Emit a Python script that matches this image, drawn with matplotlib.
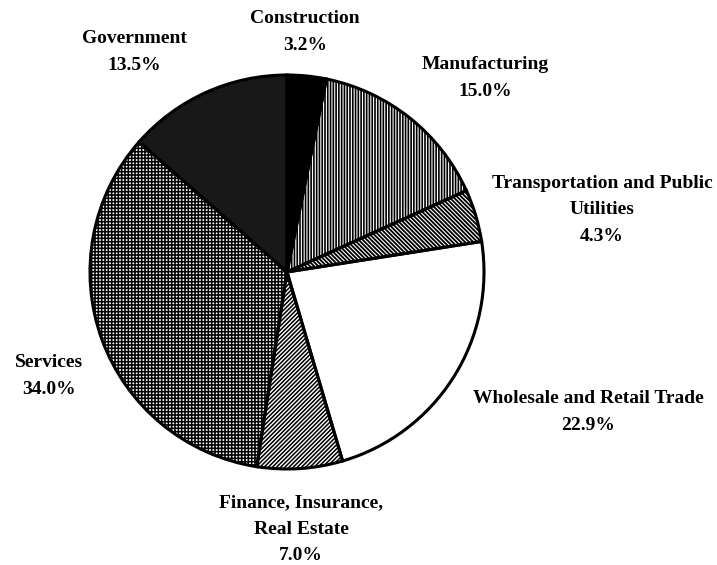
"""Pie chart of employment shares by sector, black and white print style."""

import matplotlib
matplotlib.use("Agg")
import matplotlib.pyplot as plt

plt.rcParams["font.family"] = ["Liberation Serif", "DejaVu Serif"]
plt.rcParams["hatch.linewidth"] = 1.0

# Data, clockwise from 12 o'clock
sectors = [
    "Construction",
    "Manufacturing",
    "Transportation and Public\nUtilities",
    "Wholesale and Retail Trade",
    "Finance, Insurance,\nReal Estate",
    "Services",
    "Government",
]
shares = [3.2, 15.0, 4.3, 22.9, 7.0, 34.0, 13.5]

# Fill style per slice: (face colour, hatch colour, hatch, hatch width)
styles = [
    ("black", "black", None, 1.0),
    ("black", "white", "|" * 6, 0.8),
    ("black", "white", "\\" * 8, 0.8),
    ("white", "white", None, 1.0),
    ("black", "white", "/" * 8, 1.0),
    ("white", "black", "+" * 5, 1.1),
    ("#181818", "#181818", None, 1.0),
]

# Label anchor points in pixel units (x from left, y from top)
label_xy = [
    (305, 32),
    (485, 78),
    (602, 210),
    (588, 412),
    (301, 529),
    (49, 376),
    (134, 52),
]

W, H = 717, 565
fig = plt.figure(figsize=(W / 100, H / 100), dpi=100)
ax = fig.add_axes([0, 0, 1, 1])

center = (287, H - 272)
radius = 197

# Filled and hatched wedges
wedges, _ = ax.pie(
    shares,
    startangle=90,
    counterclock=False,
    center=center,
    radius=radius,
    frame=True,
    wedgeprops=dict(linewidth=0),
)
for w, (face, hcol, hatch, hlw) in zip(wedges, styles):
    w.set_facecolor(face)
    w.set_edgecolor(hcol)
    if hatch:
        w.set_hatch(hatch)
        if hasattr(w, "set_hatch_linewidth"):
            w.set_hatch_linewidth(hlw)

# Outlines on top
ax.pie(
    shares,
    startangle=90,
    counterclock=False,
    center=center,
    radius=radius,
    frame=True,
    wedgeprops=dict(fill=False, edgecolor="black", linewidth=2.2),
)
ax.set_xlim(0, W)
ax.set_ylim(0, H)
ax.set_aspect("equal")
ax.axis("off")

for name, val, (x, y) in zip(sectors, shares, label_xy):
    ax.text(
        x,
        H - y,
        f"{name}\n{val:.1f}%",
        ha="center",
        va="center",
        fontsize=14,
        fontweight="bold",
        linespacing=1.75,
        color="black",
    )

plt.savefig("out.png", dpi=100)
